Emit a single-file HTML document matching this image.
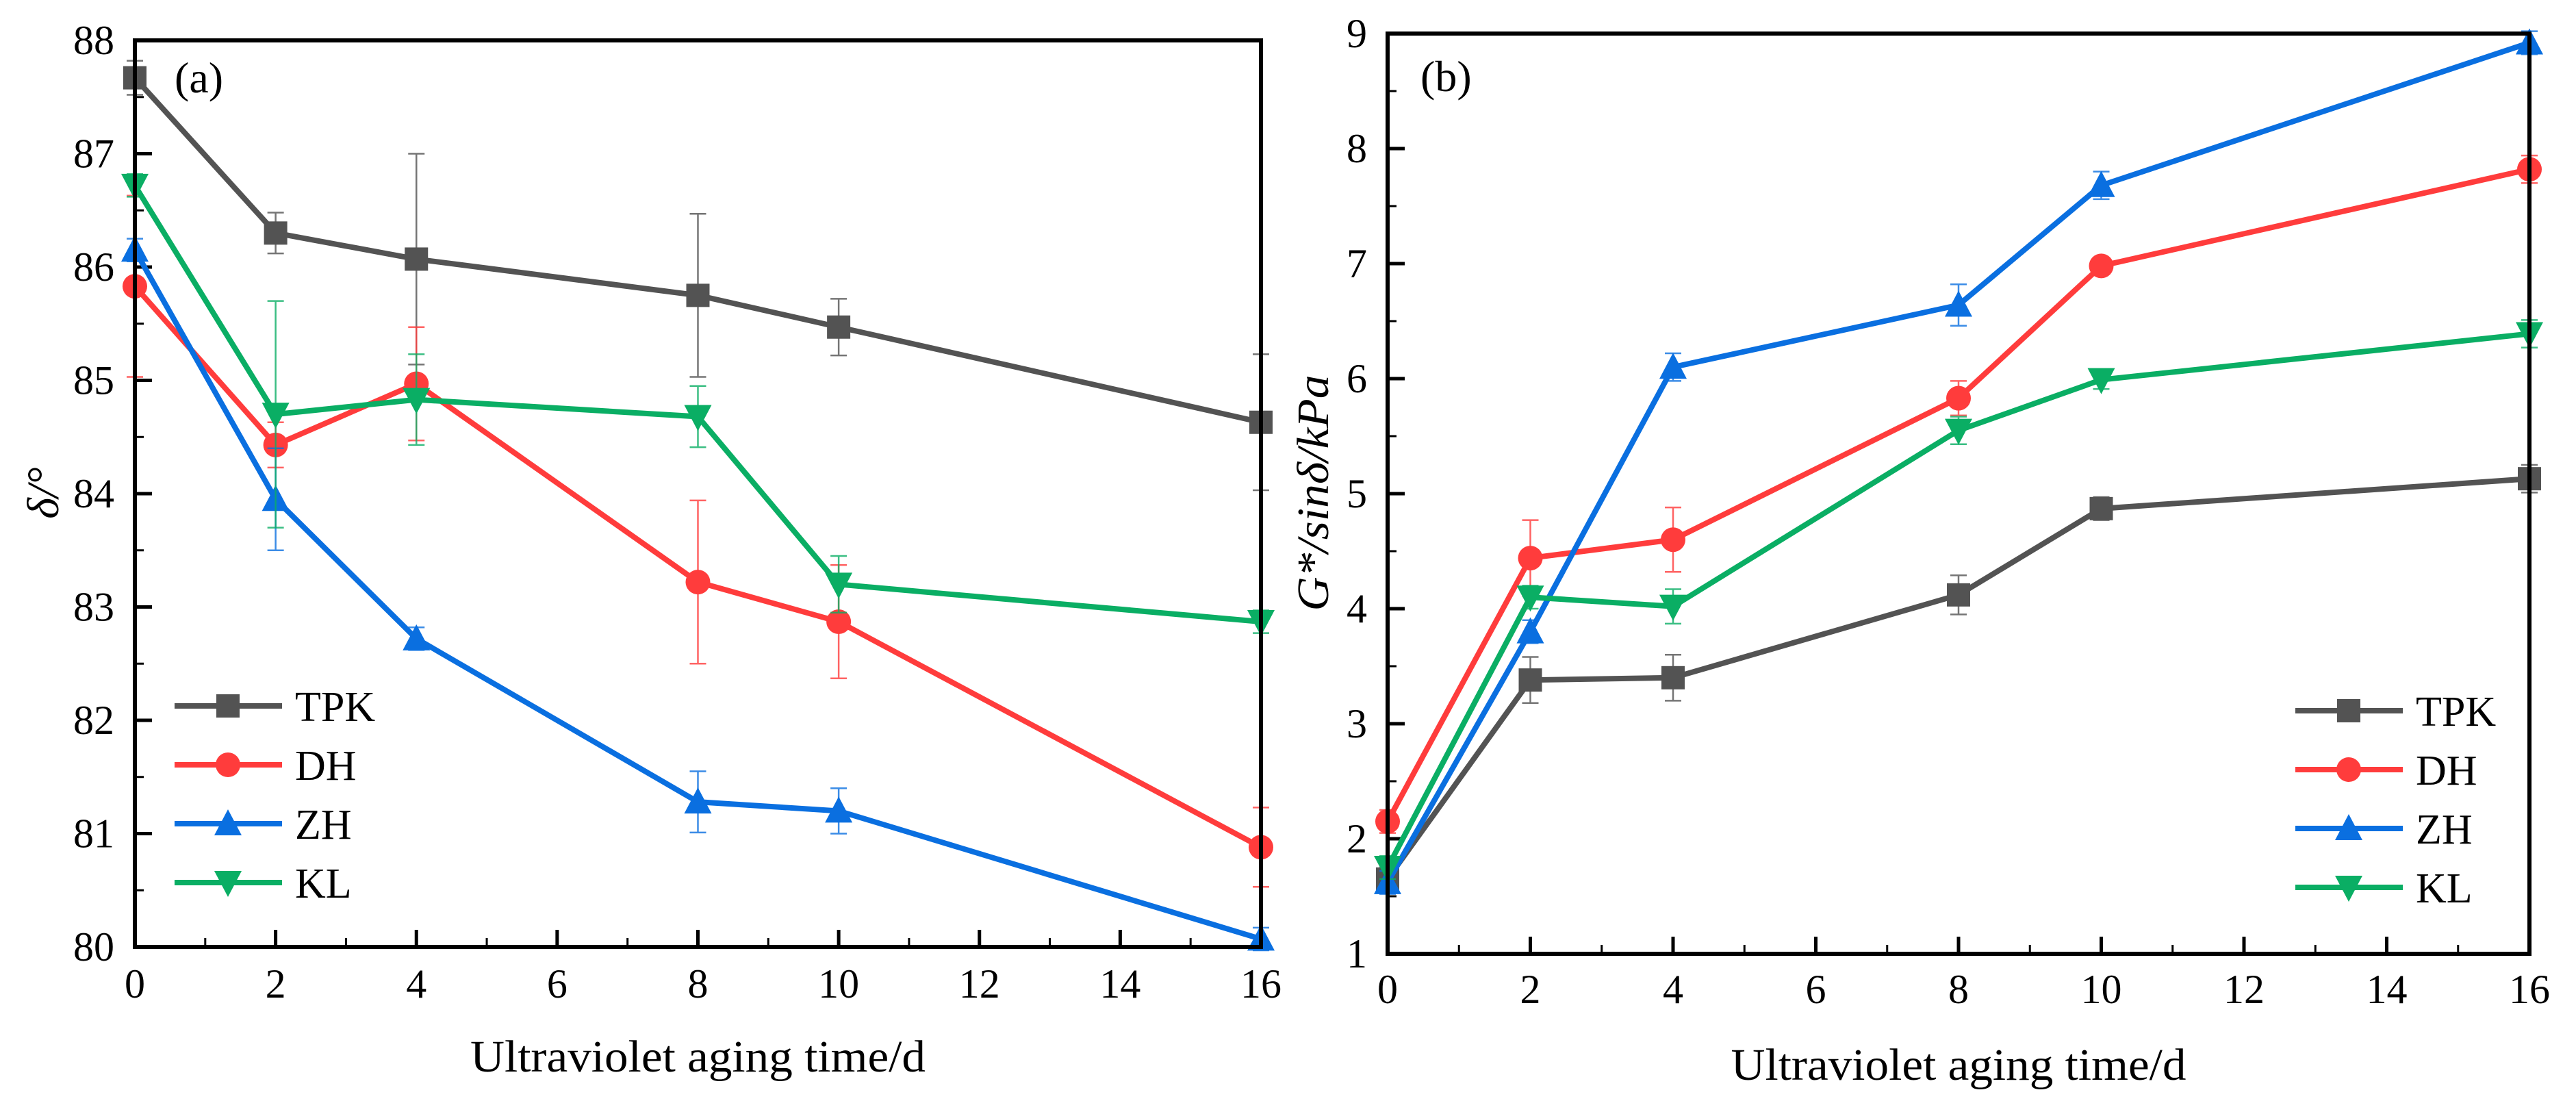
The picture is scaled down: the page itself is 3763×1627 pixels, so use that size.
<!DOCTYPE html>
<html><head><meta charset="utf-8">
<style>
html,body{margin:0;padding:0;background:#fff;}
svg{display:block;font-family:"Liberation Serif","Times New Roman",serif;}
</style></head>
<body>
<svg id="chart" width="3763" height="1627" viewBox="0 0 3763 1627" xmlns="http://www.w3.org/2000/svg">
<rect width="3763" height="1627" fill="#fff"/>
</svg>
<script>
const days = [0, 2, 4, 8, 10, 16];
const seriesNames = ["TPK", "DH", "ZH", "KL"];
// Panel (a) delta
const aTPK = [87.67, 86.3, 86.07, 85.75, 85.47, 84.63];
const aDH  = [85.83, 84.43, 84.97, 83.22, 82.87, 80.88];
const aZH  = [86.15, 83.95, 82.72, 81.28, 81.2, 80.07];
const aKL  = [86.72, 84.7, 84.83, 84.68, 83.2, 82.87];
const aErrTPK = [0.15, 0.18, 0.93, 0.72, 0.25, 0.6];
const aErrDH  = [0.8, 0.2, 0.5, 0.72, 0.5, 0.35];
const aErrZH  = [0.1, 0.45, 0.1, 0.27, 0.2, 0.1];
const aErrKL  = [0.1, 1.0, 0.4, 0.27, 0.25, 0.1];
// Panel (b) G*/sin delta
const bTPK = [1.65, 3.38, 3.4, 4.12, 4.87, 5.13];
const bDH  = [2.15, 4.44, 4.6, 5.83, 6.98, 7.82];
const bZH  = [1.62, 3.8, 6.1, 6.64, 7.68, 8.92];
const bKL  = [1.75, 4.1, 4.02, 5.55, 5.99, 6.39];
const bErrTPK = [0.1, 0.2, 0.2, 0.17, 0.1, 0.12];
const bErrDH  = [0.1, 0.33, 0.28, 0.15, 0.07, 0.12];
const bErrZH  = [0.1, 0.1, 0.12, 0.18, 0.12, 0.1];
const bErrKL  = [0.1, 0.1, 0.15, 0.12, 0.08, 0.12];
const xTicks = [0, 2, 4, 6, 8, 10, 12, 14, 16];
const aYTicks = [80, 81, 82, 83, 84, 85, 86, 87, 88];
const bYTicks = [1, 2, 3, 4, 5, 6, 7, 8, 9];

const colors = ["#535353", "#ff3c3c", "#0a6fe0", "#0aae64"];
const markers = ["square", "circle", "up", "down"];
const NS = "http://www.w3.org/2000/svg";
const svg = document.getElementById("chart");
function mk(tag, attrs, parent) {
  const e = document.createElementNS(NS, tag);
  for (const k in attrs) e.setAttribute(k, attrs[k]);
  (parent || svg).appendChild(e);
  return e;
}
function marker(g, type, cx, cy, color) {
  const s = 17;
  let e;
  if (type === "square") e = mk("rect", {x: cx - s, y: cy - s, width: 2 * s, height: 2 * s, fill: color}, g);
  else if (type === "circle") e = mk("circle", {cx: cx, cy: cy, r: s + 1, fill: color}, g);
  else if (type === "up") e = mk("polygon", {points: `${cx},${cy - s - 4} ${cx + s + 3},${cy + s} ${cx - s - 3},${cy + s}`, fill: color}, g);
  else e = mk("polygon", {points: `${cx},${cy + s + 4} ${cx + s + 3},${cy - s} ${cx - s - 3},${cy - s}`, fill: color}, g);
  return e;
}

function panel(cfg) {
  const {x0, x1, y0, y1, ymin, ymax, yTicks, series, errs, label, ytitle, ytitleX, ytitleY, ytitleLen, titleY, tickLabelY, legX, legY, id} = cfg;
  const X = v => x0 + (v - 0) / 16 * (x1 - x0);
  const Y = v => y1 - (v - ymin) / (ymax - ymin) * (y1 - y0);
  const g = mk("g", {});
  
  
  const tg = mk("g", {stroke: "#000", "stroke-width": 5}, g);
  
  
  xTicks.forEach((t, i) => {
    mk("line", {x1: X(t), x2: X(t), y1: y1, y2: y1 - 25}, tg);
    if (i < xTicks.length - 1) mk("line", {x1: X(t + 1), x2: X(t + 1), y1: y1, y2: y1 - 13, "stroke-width": 3}, tg);
    const tl = mk("text", {x: X(t), y: tickLabelY, "font-size": 60, "text-anchor": "middle", fill: "#000"}, g);
    tl.textContent = t;
    
    
  });
  yTicks.forEach((t, i) => {
    mk("line", {x1: x0, x2: x0 + 25, y1: Y(t), y2: Y(t)}, tg);
    if (i < yTicks.length - 1) mk("line", {x1: x0, x2: x0 + 13, y1: Y(t + 0.5), y2: Y(t + 0.5), "stroke-width": 3}, tg);
    const tl = mk("text", {x: x0 - 30, y: Y(t) + 20, "font-size": 60, "text-anchor": "end", fill: "#000"}, g);
    tl.textContent = t;
    
    
  });
  series.forEach((vals, si) => {
    const sg = mk("g", {}, g);
    
    
    const c = colors[si];
    vals.forEach((v, i) => {
      const e = errs[si][i], cx = X(days[i]);
      const eb = mk("path", {d: `M${cx},${Y(v + e)}V${Y(v - e)}M${cx - 12},${Y(v + e)}h24M${cx - 12},${Y(v - e)}h24`, stroke: c, "stroke-width": 2.5, fill: "none", opacity: 0.8}, sg);
      
      
    });
    const pl = mk("polyline", {points: vals.map((v, i) => X(days[i]) + "," + Y(v)).join(" "), fill: "none", stroke: c, "stroke-width": 8}, sg);
    
    
    vals.forEach((v, i) => {
      const m = marker(sg, markers[si], X(days[i]), Y(v), c);
      
      
    });
  });
  const fr = mk("rect", {x: x0, y: y0, width: x1 - x0, height: y1 - y0, fill: "none", stroke: "#000", "stroke-width": 6}, g);
  
  
  const lg = mk("g", {}, g);
  
  
  seriesNames.forEach((n, si) => {
    const ly = legY + si * 86;
    const eg = mk("g", {}, lg);
    
    
    mk("line", {x1: legX, x2: legX + 157, y1: ly, y2: ly, stroke: colors[si], "stroke-width": 8}, eg);
    marker(eg, markers[si], legX + 78, ly, colors[si]);
    const t = mk("text", {x: legX + 176, y: ly + 22, "font-size": 62, fill: "#000"}, eg);
    t.textContent = n;
  });
  const pl = mk("text", {x: label.x, y: label.y, "font-size": 64, fill: "#000"}, g);
  pl.textContent = label.t;
  
  
  const xt = mk("text", {x: (x0 + x1) / 2, y: titleY, "font-size": 66, "text-anchor": "middle", textLength: 665, lengthAdjust: "spacingAndGlyphs", fill: "#000"}, g);
  xt.textContent = "Ultraviolet aging time/d";
  
  
  const yt = mk("text", {x: 0, y: 0, "font-size": 66, "font-style": "italic", "text-anchor": "middle", transform: `translate(${ytitleX},${ytitleY}) rotate(-90)`, fill: "#000"}, g);
  if (ytitleLen) { yt.setAttribute("textLength", ytitleLen); yt.setAttribute("lengthAdjust", "spacingAndGlyphs"); }
  yt.textContent = ytitle;
  
  
}

panel({id: "panel-a", x0: 197, x1: 1842, y0: 59, y1: 1383, ymin: 80, ymax: 88, yTicks: aYTicks,
  series: [aTPK, aDH, aZH, aKL], errs: [aErrTPK, aErrDH, aErrZH, aErrKL],
  label: {x: 255, y: 135, t: "(a)"}, ytitle: "δ/°", ytitleX: 85, ytitleY: 720, ytitleLen: 0,
  titleY: 1565, tickLabelY: 1457, legX: 255, legY: 1031});
panel({id: "panel-b", x0: 2027, x1: 3695, y0: 49, y1: 1393, ymin: 1, ymax: 9, yTicks: bYTicks,
  series: [bTPK, bDH, bZH, bKL], errs: [bErrTPK, bErrDH, bErrZH, bErrKL],
  label: {x: 2075, y: 133, t: "(b)"}, ytitle: "G*/sinδ/kPa", ytitleX: 1940, ytitleY: 720, ytitleLen: 345,
  titleY: 1577, tickLabelY: 1465, legX: 3353, legY: 1038});
</script>
</body></html>
